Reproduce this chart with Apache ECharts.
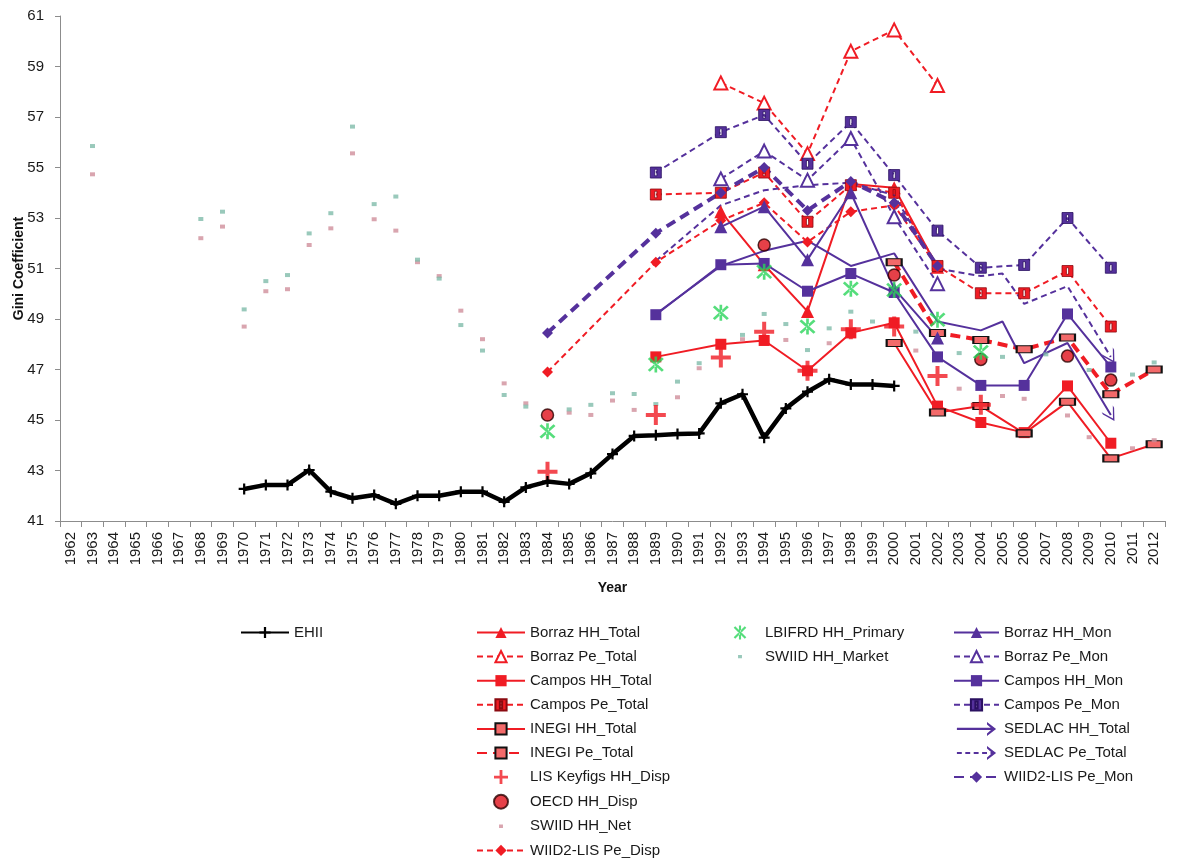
<!DOCTYPE html>
<html><head><meta charset="utf-8">
<script src="https://cdn.jsdelivr.net/npm/echarts@6/dist/echarts.min.js"></script>
<style>html,body{margin:0;padding:0;background:#fff}#c{width:1185px;height:864px}</style>
</head><body><div id="c"></div>
<script>
// ---------- DATA ----------
const years = ['1962','1963','1964','1965','1966','1967','1968','1969','1970','1971','1972','1973','1974','1975','1976','1977','1978','1979','1980','1981','1982','1983','1984','1985','1986','1987','1988','1989','1990','1991','1992','1993','1994','1995','1996','1997','1998','1999','2000','2001','2002','2003','2004','2005','2006','2007','2008','2009','2010','2011','2012'];

const ehii = [[1970,42.27],[1971,42.43],[1972,42.43],[1973,43.02],[1974,42.16],[1975,41.9],[1976,42.03],[1977,41.68],[1978,42.0],[1979,42.0],[1980,42.16],[1981,42.16],[1982,41.76],[1983,42.33],[1984,42.56],[1985,42.47],[1986,42.89],[1987,43.65],[1988,44.37],[1989,44.4],[1990,44.45],[1991,44.47],[1992,45.66],[1993,46.02],[1994,44.3],[1995,45.46],[1996,46.12],[1997,46.61],[1998,46.41],[1999,46.41],[2000,46.35]];

const borrazHHTotal = [[1992,53.25],[1994,51.15],[1996,49.3],[1998,54.35],[2000,54.2],[2002,51.05]];
const borrazPeTotal = [[1992,58.35],[1994,57.55],[1996,55.55],[1998,59.6],[2000,60.45],[2002,58.25]];
const camposHHTotal = [[1989,47.5],[1992,48.0],[1994,48.15],[1996,46.95],[1998,48.45],[2000,48.85],[2002,45.55],[2004,44.9],[2006,44.5],[2008,46.35],[2010,44.08]];
const camposPeTotal = [[1989,53.93],[1992,54.0],[1994,54.8],[1996,52.85],[1998,54.3],[2000,54.0],[2002,51.1],[2004,50.02],[2006,50.02],[2008,50.9],[2010,48.7]];
const inegiHHTotal = [[2000,48.05],[2002,45.3],[2004,45.55],[2006,44.47],[2008,45.72],[2010,43.48],[2012,44.04]];
const inegiPeTotal = [[2000,51.25],[2002,48.45],[2004,48.17],[2006,47.8],[2008,48.27],[2010,46.02],[2012,47.0]];
const lisKeyfigsHHDisp = [[1984,42.95],[1989,45.2],[1992,47.48],[1994,48.5],[1996,46.95],[1998,48.59],[2000,48.7],[2002,46.74],[2004,45.6]];
const oecdHHDisp = [[1984,45.2],[1994,51.93],[2000,50.74],[2004,47.4],[2008,47.53],[2010,46.58]];
const swiidHHNet = [[1963,54.73],[1968,52.2],[1969,52.66],[1970,48.7],[1971,50.1],[1972,50.18],[1973,51.93],[1974,52.59],[1975,55.56],[1976,52.95],[1977,52.5],[1978,51.25],[1979,50.7],[1980,49.33],[1981,48.2],[1982,46.45],[1983,45.66],[1985,45.29],[1986,45.2],[1987,45.77],[1988,45.4],[1990,45.9],[1991,47.05],[1993,48.2],[1995,48.17],[1997,48.04],[2001,47.75],[2003,46.24],[2005,45.95],[2006,45.84],[2008,45.18],[2009,44.32],[2011,43.88],[2012,44.2]];
const wiidLisPeDisp = [[1984,46.9],[1989,51.25],[1992,52.9],[1994,53.6],[1996,52.05],[1998,53.25],[2000,53.5],[2002,51.05]];
const lbifrdHHPrimary = [[1984,44.55],[1989,47.2],[1992,49.25],[1994,50.87],[1996,48.7],[1998,50.2],[2000,50.15],[2002,48.97],[2004,47.7]];
const swiidHHMarket = [[1963,55.85],[1968,52.96],[1969,53.25],[1970,49.38],[1971,50.5],[1972,50.74],[1973,52.39],[1974,53.19],[1975,56.62],[1976,53.55],[1977,53.85],[1978,51.35],[1979,50.6],[1980,48.76],[1981,47.75],[1982,45.99],[1983,45.53],[1985,45.42],[1986,45.6],[1987,46.06],[1988,46.03],[1989,45.63],[1990,46.52],[1991,47.25],[1993,48.37],[1994,49.2],[1995,48.8],[1996,47.77],[1997,48.63],[1998,49.29],[1999,48.9],[2001,48.5],[2003,47.65],[2005,47.5],[2007,47.6],[2009,46.98],[2011,46.8],[2012,47.28]];
const borrazHHMon = [[1992,52.65],[1994,53.45],[1996,51.35],[1998,54.0],[2000,50.2],[2002,48.25]];
const borrazPeMon = [[1992,54.55],[1994,55.65],[1996,54.5],[1998,56.15],[2000,53.05],[2002,50.4]];
const camposHHMon = [[1989,49.17],[1992,51.15],[1994,51.2],[1996,50.1],[1998,50.8],[2000,50.05],[2002,47.5],[2004,46.37],[2006,46.37],[2008,49.2],[2010,47.1]];
const camposPeMon = [[1989,54.8],[1992,56.4],[1994,57.08],[1996,55.15],[1998,56.8],[2000,54.7],[2002,52.5],[2004,51.03],[2006,51.14],[2008,53.0],[2010,51.03]];
const sedlacHHTotal = [[1989,49.2],[1992,51.1],[1994,51.7],[1996,52.1],[1998,51.1],[2000,51.6],[2002,48.9],[2004,48.55],[2005,48.9],[2006,47.25],[2008,48.05],[2010,45.2]];
const sedlacPeTotal = [[1989,51.3],[1992,53.5],[1994,54.1],[1996,54.3],[1998,54.4],[2000,53.9],[2002,51.0],[2004,50.7],[2005,50.8],[2006,49.6],[2008,50.3],[2010,47.5]];
const wiidLisPeMon = [[1984,48.45],[1989,52.4],[1992,54.0],[1994,55.0],[1996,53.3],[1998,54.45],[2000,53.6],[2002,51.1]];

// ---------- STYLE ----------
const RED = '#f01c24', PUR = '#55319c', GREEN = '#2bd45a';
const FONT = 'Liberation Sans, Arial, sans-serif';
const PLUS = 'path://M4,0h2v10h-2z M0,4h10v2h-10z';
const AST = 'path://M4.25,0h1.5v10h-1.5z M0.5,1.6l1.1,-1.1l7.9,7.9l-1.1,1.1z M9.5,1.6l-1.1,-1.1l-7.9,7.9l1.1,1.1z';
const CHEV = 'path://M0,0L5,8L10,0L10,1.8L5,10L0,1.8Z';
const OPENSQ = 'path://M0,0h10v10h-10z M4,2v6h2v-6z';
const SMALLDOT = 'path://M0,0h0.05v0.05h-0.05z M10,10h-0.05v-0.05h0.05z M3.6,3.8h2.8v2.4h-2.8z';
const ARROW_SOLID = 'path://M0,4.2h26v1.6h-26z M21.5,0L28,5L21.5,10L21.5,8.2L25.2,5L21.5,1.8Z';
const ARROW_DASH = 'path://M0,4.2h3.5v1.6h-3.5z M6,4.2h3.5v1.6h-3.5z M12,4.2h3.5v1.6h-3.5z M18,4.2h3.5v1.6h-3.5z M24,4.2h2v1.6h-2z M21.5,0L28,5L21.5,10L21.5,8.2L25.2,5L21.5,1.8Z';

const pts = arr => arr.map(p => [String(p[0]), p[1]]);
function line(name, arr, color, o) {
  o = o || {};
  return {
    name, type: 'line', data: pts(arr), z: o.z || 3,
    symbol: o.symbol || 'none', symbolSize: o.size || 10,
    lineStyle: { color, width: o.width || 2, type: o.dash ? (o.dashArr || [6, 4]) : 'solid' },
    itemStyle: Object.assign({ color, borderColor: color, borderWidth: o.bw || 0 }, o.item || {}),
    emphasis: { disabled: true }
  };
}
function scat(name, arr, color, symbol, size, item) {
  return { name, type: 'scatter', data: pts(arr), symbol, symbolSize: size, z: 4,
    itemStyle: Object.assign({ color }, item || {}), emphasis: { disabled: true } };
}
function arrowLine(name, arr, color, dash, rot) {
  const s = line(name, arr, color, { dash, width: 2 });
  s.symbol = 'none';
  s.data = arr.map((p, i) => i === arr.length - 1
    ? { value: [String(p[0]), p[1]], symbol: CHEV, symbolSize: [13, 14], symbolRotate: rot }
    : { value: [String(p[0]), p[1]], symbol: 'none' });
  return s;
}

const series = [
  scat('SWIID HH_Net', swiidHHNet, '#cf8f9b', 'rect', [5, 4]),
  scat('SWIID HH_Market', swiidHHMarket, '#7fbcaa', 'rect', [5, 4]),
  line('EHII', ehii, '#000', { symbol: PLUS, size: 11, width: 4.5, z: 5 }),
  line('Borraz HH_Total', borrazHHTotal, RED, { symbol: 'triangle', size: 13 }),
  line('Borraz Pe_Total', borrazPeTotal, RED, { symbol: 'emptyTriangle', size: 13, dash: true, bw: 2 }),
  line('Campos HH_Total', camposHHTotal, RED, { symbol: 'rect', size: 11 }),
  line('Campos Pe_Total', camposPeTotal, RED, { symbol: OPENSQ, size: 11, dash: true, item: { borderColor: '#8a0a10', borderWidth: 0.8 } }),
  line('INEGI HH_Total', inegiHHTotal, RED, { symbol: 'rect', size: [15, 7], item: { color: '#f36a6a', borderColor: '#111', borderWidth: 1.5 } }),
  line('INEGI Pe_Total', inegiPeTotal, RED, { symbol: 'rect', size: [15, 7], width: 4, dash: true, dashArr: [10, 6], item: { color: '#f36a6a', borderColor: '#111', borderWidth: 1.5 } }),
  scat('LIS Keyfigs HH_Disp', lisKeyfigsHHDisp, RED, PLUS, 20),
  scat('OECD HH_Disp', oecdHHDisp, '#e0101a', 'circle', 12, { borderColor: '#2a0000', borderWidth: 1.5 }),
  line('WIID2-LIS Pe_Disp', wiidLisPeDisp, RED, { symbol: 'diamond', size: 11, dash: true }),
  scat('LBIFRD HH_Primary', lbifrdHHPrimary, GREEN, AST, 16),
  line('Borraz HH_Mon', borrazHHMon, PUR, { symbol: 'triangle', size: 13 }),
  line('Borraz Pe_Mon', borrazPeMon, PUR, { symbol: 'emptyTriangle', size: 13, dash: true, bw: 2 }),
  line('Campos HH_Mon', camposHHMon, PUR, { symbol: 'rect', size: 11 }),
  line('Campos Pe_Mon', camposPeMon, PUR, { symbol: OPENSQ, size: 11, dash: true, item: { borderColor: '#2a1060', borderWidth: 0.8 } }),
  arrowLine('SEDLAC HH_Total', sedlacHHTotal, PUR, false, 31),
  arrowLine('SEDLAC Pe_Total', sedlacPeTotal, PUR, true, 31),
  line('WIID2-LIS Pe_Mon', wiidLisPeMon, PUR, { symbol: 'diamond', size: 11, width: 4, dash: true, dashArr: [10, 6] })
];

const legTxt = { fontFamily: FONT, fontSize: 15, color: '#1a1a1a', lineHeight: 15 };
function leg(left, itemWidth, data) {
  return { left, top: 625, height: 250, orient: 'vertical', itemWidth, itemHeight: 14, itemGap: 9.1,
    data, textStyle: legTxt, selectedMode: false, padding: 0 };
}

const chart = echarts.init(document.getElementById('c'), null, { renderer: 'canvas' });
chart.setOption({
  animation: false,
  backgroundColor: '#fff',
  grid: { left: 60, top: 16, width: 1105, bottom: 343, containLabel: false, outerBoundsMode: 'none' },
  xAxis: {
    type: 'category', data: years, boundaryGap: true,
    name: 'Year', nameLocation: 'middle', nameGap: 60,
    nameTextStyle: { fontFamily: FONT, fontWeight: 'bold', fontSize: 14, color: '#111' },
    axisLine: { lineStyle: { color: '#8c8c8c', width: 1 } },
    axisTick: { show: true, alignWithLabel: false, interval: 0, length: 6, lineStyle: { color: '#8c8c8c' } },
    axisLabel: { interval: 0, rotate: 90, fontSize: 15, color: '#1a1a1a', fontFamily: FONT, margin: 11 },
    splitLine: { show: false }
  },
  yAxis: {
    type: 'value', min: 41, max: 61, interval: 2,
    name: 'Gini Coefficient', nameLocation: 'middle', nameGap: 34, nameMoveOverlap: false,
    nameTextStyle: { fontFamily: FONT, fontWeight: 'bold', fontSize: 14, color: '#111' },
    axisLine: { show: true, lineStyle: { color: '#8c8c8c', width: 1 } },
    axisTick: { show: true, length: 5, lineStyle: { color: '#8c8c8c' } },
    axisLabel: { fontSize: 15, color: '#1a1a1a', fontFamily: FONT, margin: 16 },
    splitLine: { show: false }
  },
  legend: [
    leg(240, 48, ['EHII']),
    leg(476, 48, ['Borraz HH_Total', 'Borraz Pe_Total', 'Campos HH_Total', 'Campos Pe_Total', 'INEGI HH_Total', 'INEGI Pe_Total', 'LIS Keyfigs HH_Disp', 'OECD HH_Disp', { name: 'SWIID HH_Net', icon: SMALLDOT }, 'WIID2-LIS Pe_Disp']),
    leg(733, 40, ['LBIFRD HH_Primary', { name: 'SWIID HH_Market', icon: SMALLDOT }]),
    leg(953, 45, ['Borraz HH_Mon', 'Borraz Pe_Mon', 'Campos HH_Mon', 'Campos Pe_Mon', { name: 'SEDLAC HH_Total', icon: ARROW_SOLID }, { name: 'SEDLAC Pe_Total', icon: ARROW_DASH }, 'WIID2-LIS Pe_Mon'])
  ],
  series
});
</script></body></html>
